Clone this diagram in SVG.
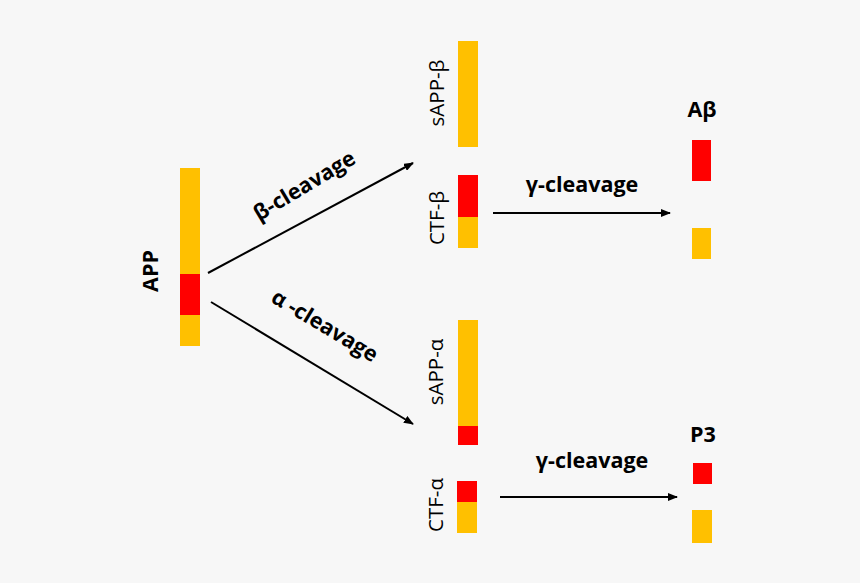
<svg xmlns="http://www.w3.org/2000/svg" width="860" height="583" viewBox="0 0 860 583">
<defs>
<style>
.y{fill:#FFC000}
.r{fill:#FF0000}
.lbl{font-family:"Open Sans","Liberation Sans",sans-serif;font-size:20.5px;fill:#000}
.b{font-weight:bold;font-size:21.5px}
.ln{stroke:#000;stroke-width:2;fill:none}
</style>
<marker id="ah" markerWidth="10" markerHeight="8" refX="9" refY="4" orient="auto" markerUnits="userSpaceOnUse">
<path d="M0,0 L10,4 L0,8 Z" fill="#000"/>
</marker>
</defs>
<rect width="860" height="583" fill="#F7F7F7"/>
<g id="app">
<rect class="y" x="180" y="168" width="20" height="106"/>
<rect class="r" x="180" y="274" width="20" height="41"/>
<rect class="y" x="180" y="315" width="20" height="31"/>
<text class="lbl b" transform="translate(158,271) rotate(-90)" text-anchor="middle">APP</text>
</g>
<g id="sapp-beta">
<rect class="y" x="458" y="41" width="20" height="106"/>
<text class="lbl" transform="translate(444,93) rotate(-90)" text-anchor="middle">sAPP-β</text>
</g>
<g id="ctf-beta">
<rect class="r" x="458" y="175" width="20" height="42"/>
<rect class="y" x="458" y="217" width="20" height="31"/>
<text class="lbl" transform="translate(444,218) rotate(-90)" text-anchor="middle">CTF-β</text>
</g>
<g id="abeta">
<rect class="r" x="692" y="140" width="19" height="41"/>
<rect class="y" x="692" y="228" width="19" height="31"/>
<text class="lbl b" x="702" y="117" text-anchor="middle">Aβ</text>
</g>
<g id="sapp-alpha">
<rect class="y" x="458" y="320" width="20" height="106"/>
<rect class="r" x="458" y="426" width="20" height="19"/>
<text class="lbl" transform="translate(443,372) rotate(-90)" text-anchor="middle">sAPP-α</text>
</g>
<g id="ctf-alpha">
<rect class="r" x="457" y="481" width="20" height="21"/>
<rect class="y" x="457" y="502" width="20" height="31"/>
<text class="lbl" transform="translate(443,505) rotate(-90)" text-anchor="middle">CTF-α</text>
</g>
<g id="p3">
<rect class="r" x="693" y="463" width="19" height="21"/>
<rect class="y" x="692" y="510" width="20" height="33"/>
<text class="lbl b" x="703" y="442" text-anchor="middle">P3</text>
</g>
<g id="connectors">
<line class="ln" x1="208" y1="273" x2="413" y2="163" marker-end="url(#ah)"/>
<line class="ln" x1="211" y1="302" x2="413" y2="424" marker-end="url(#ah)"/>
<line class="ln" x1="493" y1="213" x2="670" y2="213" marker-end="url(#ah)"/>
<line class="ln" x1="500" y1="497" x2="677" y2="497" marker-end="url(#ah)"/>
<text class="lbl b" transform="translate(308,192) rotate(-31)" text-anchor="middle">β-cleavage</text>
<text class="lbl b" transform="translate(321,332) rotate(31)" text-anchor="middle">α -cleavage</text>
<text class="lbl b" x="582" y="192" text-anchor="middle">γ-cleavage</text>
<text class="lbl b" x="592" y="468" text-anchor="middle">γ-cleavage</text>
</g>
</svg>
